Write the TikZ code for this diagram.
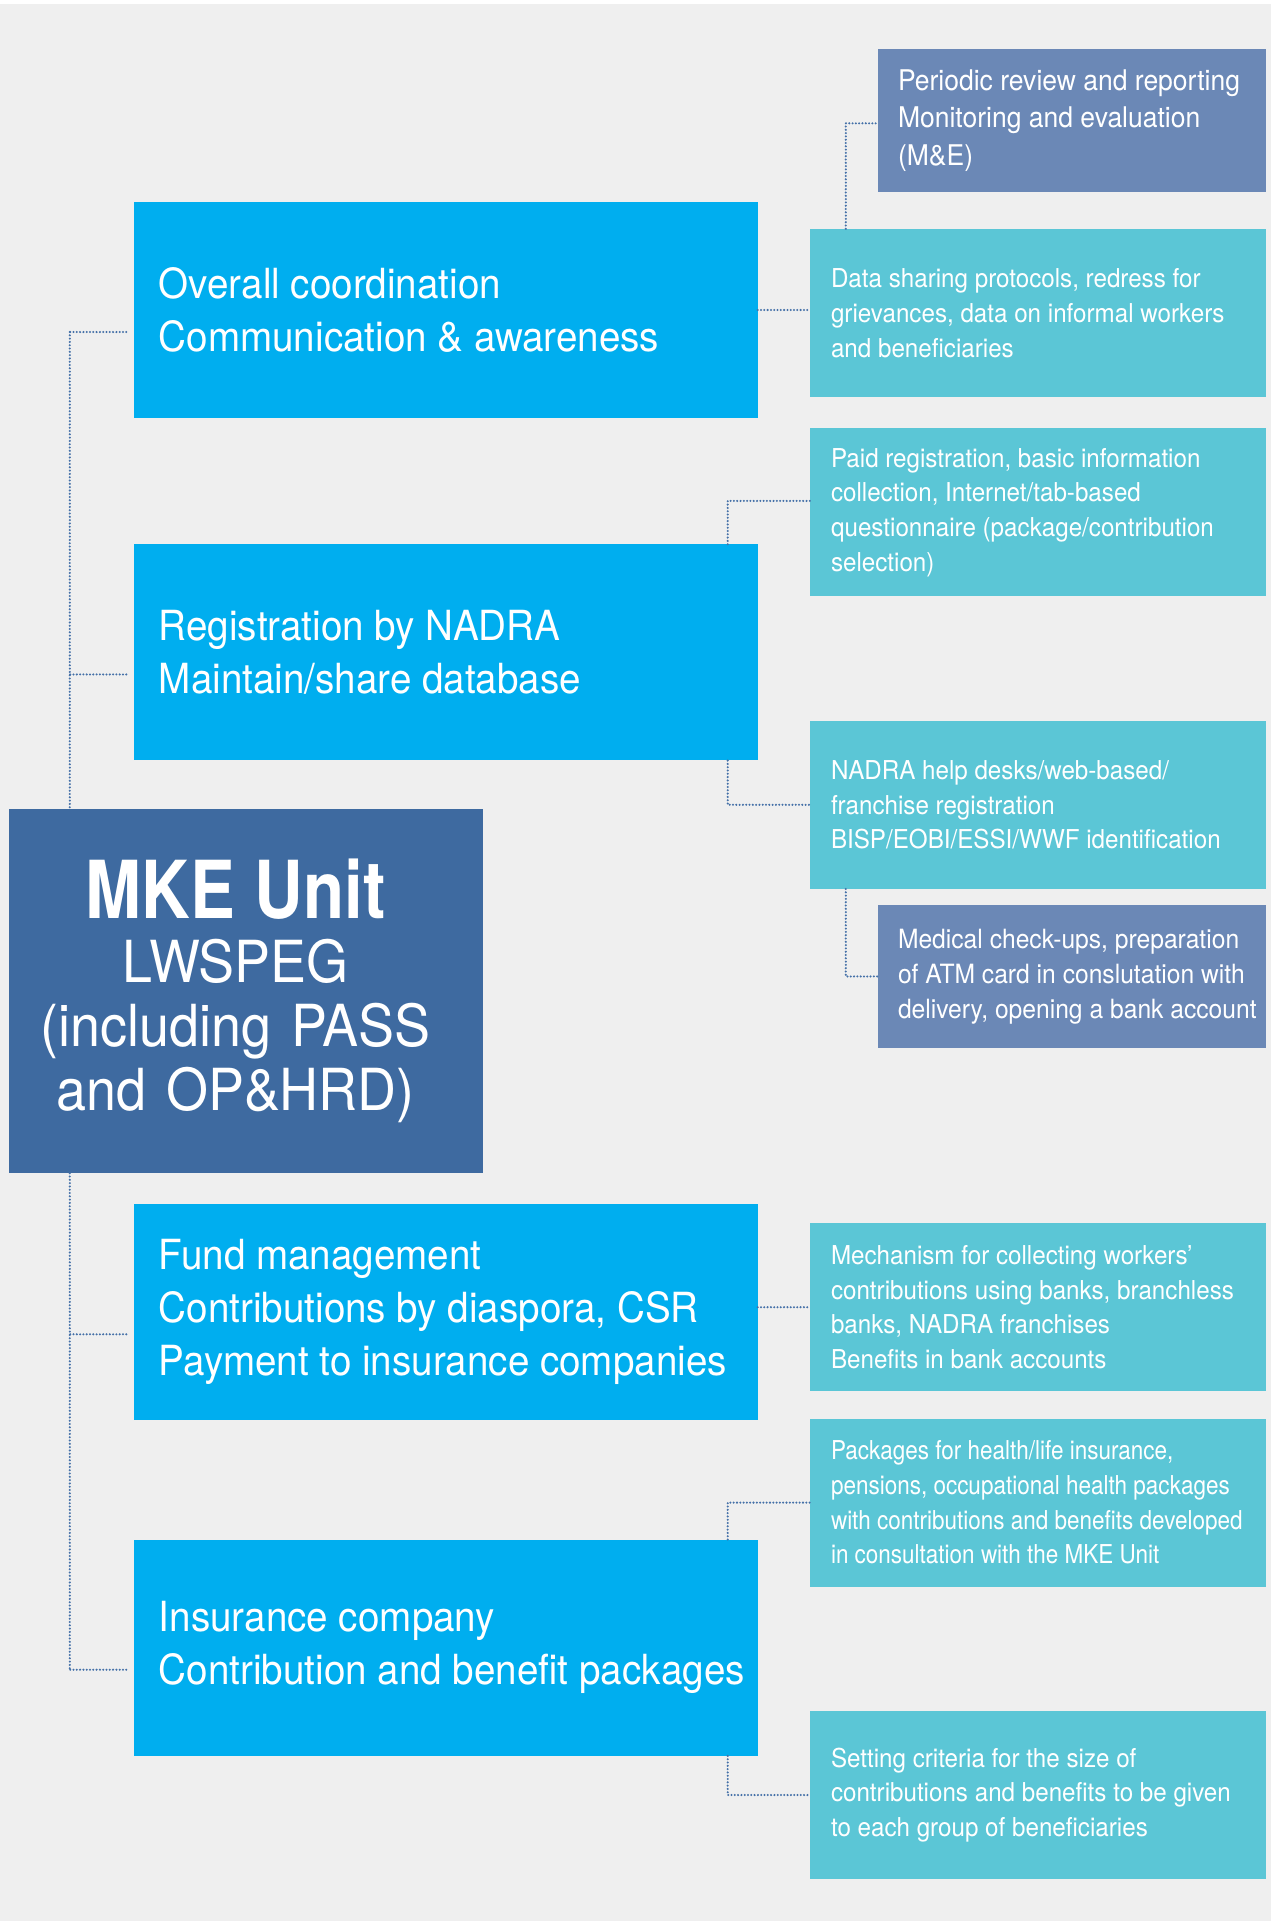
\documentclass[tikz,border=0pt]{standalone}
\usepackage{fontspec}
\setmainfont[FakeStretch=0.93]{TeX Gyre Heros}
\newfontfamily\narrowFont[FakeStretch=0.865]{TeX Gyre Heros}
\newfontfamily\unitFont[FakeStretch=0.84]{TeX Gyre Heros}
\usetikzlibrary{positioning}
\definecolor{taskBlue}{HTML}{00AEEF}
\definecolor{detailTeal}{HTML}{5BC6D6}
\definecolor{reviewBlue}{HTML}{6B88B6}
\definecolor{unitBlue}{HTML}{3E6AA0}
\definecolor{linkBlue}{HTML}{4470A8}
\definecolor{paperGray}{HTML}{EFEFEF}
\tikzset{
    unitBox/.style={
           rectangle,
           fill=unitBlue,
           text=white,
           inner sep=0pt,
           text width=474.4pt,
           minimum height=364pt,
           align=center,
           execute at begin node={\leftskip=0pt plus 1fil\rightskip=20pt plus 1fil\parfillskip=0pt},
           font=\fontsize{58}{64}\selectfont},
    flatText/.style={
           align=left,
           execute at begin node={\spaceskip=0pt\xspaceskip=0pt\rightskip=-40pt plus 1fil\hyphenpenalty=10000}},
    taskBox/.style={
           rectangle,
           fill=taskBlue,
           text=white,
           inner xsep=25.4pt, inner ysep=0pt,
           text width=573.2pt,
           minimum height=216pt,
           flatText,
           font=\fontsize{41.5}{53}\selectfont},
    detailBox/.style={
           rectangle,
           fill=detailTeal,
           text=white,
           inner xsep=21pt, inner ysep=0pt,
           text width=414pt,
           minimum height=168pt,
           flatText,
           font=\fontsize{26}{34.7}\selectfont},
    reviewBox/.style={
           rectangle,
           fill=reviewBlue,
           text=white,
           inner xsep=20.5pt, inner ysep=0pt,
           text width=347.5pt,
           minimum height=143.5pt,
           flatText,
           font=\fontsize{28.5}{37.4}\selectfont},
    dotLink/.style={
           draw=linkBlue,
           line width=2.3pt,
           line cap=round,
           dash pattern=on 0pt off 3.3pt}
}
\begin{document}
\begin{tikzpicture}
	\fill[white] (0,0) rectangle (1271pt,-1921pt);
	\fill[paperGray] (0,-4pt) rectangle (1271pt,-1921pt);
	% left column
	\node[unitBox] (MKEUnit) at (245.8pt,-991pt) {{\unitFont\bfseries\fontsize{80}{80}\selectfont MKE Unit}\\
		LWSPEG\\(including PASS\\and OP\&HRD)};
	\node[taskBox] (Coordination) at (445.5pt,-310pt) {Overall coordination\\Communication \& awareness};
	\node[taskBox, below = 126pt of Coordination] (Registration) {Registration by NADRA\\Maintain/share database};
	\node[taskBox, below = 443.5pt of Registration] (FundMgmt) {Fund management\\Contributions by diaspora, CSR\\Payment to insurance companies};
	\node[taskBox, below = 119pt of FundMgmt] (Insurance) {Insurance company\\Contribution and benefit packages};
	% right column
	\node[detailBox] (DataSharing) at (1038pt,-313pt) {Data sharing protocols, redress for\\grievances, data on informal workers\\and beneficiaries};
	\node[detailBox, below = 31pt of DataSharing] (PaidReg) {Paid registration, basic information\\collection, Internet/tab-based\\questionnaire (package/contribution\\selection)};
	\node[detailBox, below = 124pt of PaidReg] (HelpDesk) {NADRA help desks/web-based/\\franchise registration\\BISP/EOBI/ESSI/WWF identification};
	\node[detailBox, below = 334pt of HelpDesk] (Mechanism) {Mechanism for collecting workers’\\contributions using banks, branchless\\banks, NADRA franchises\\Benefits in bank accounts};
	\node[detailBox, below = 27pt of Mechanism, font=\narrowFont\fontsize{26}{34.7}\selectfont] (Packages) {Packages for health/life insurance,\\pensions, occupational health packages\\with contributions and benefits developed\\in consultation with the MKE Unit};
	\node[detailBox, below = 124pt of Packages] (Criteria) {Setting criteria for the size of\\contributions and benefits to be given\\to each group of beneficiaries};
	\node[reviewBox, above left = 36.5pt and 0pt of DataSharing.north east] (Review) {Periodic review and reporting\\Monitoring and evaluation\\(M\&E)};
	\node[reviewBox, below left = 15.5pt and 0pt of HelpDesk.south east, font=\fontsize{26.5}{35}\selectfont] (Medical) {Medical check-ups, preparation\\of ATM card in conslutation with\\delivery, opening a bank account};
	% spine on the left
	\coordinate (spine) at ([xshift=61.4pt]MKEUnit.west);
	\foreach \task in {Coordination,Registration,FundMgmt,Insurance}{
		\coordinate (\task Tap) at ([xshift=-7pt,yshift=-22pt]\task.west);
		\draw[dotLink] (\task Tap) -- (\task Tap -| spine);
	}
	\draw[dotLink] (CoordinationTap -| spine) -- (spine |- MKEUnit.north);
	\draw[dotLink] (spine |- MKEUnit.south) -- (InsuranceTap -| spine);
	% links to the right
	\draw[dotLink] (Coordination.east) -- (Coordination.east -| DataSharing.west);
	\draw[dotLink] ([xshift=36pt]DataSharing.north west) |- ([yshift=-3pt]Review.west);
	\draw[dotLink] ([xshift=-30pt]Registration.north east) |- ([yshift=11.5pt]PaidReg.west);
	\draw[dotLink] ([xshift=-30pt]Registration.south east) |- (HelpDesk.west);
	\draw[dotLink] ([xshift=36pt]HelpDesk.south west) |- (Medical.west);
	\draw[dotLink] (FundMgmt.east |- Mechanism.west) -- (Mechanism.west);
	\draw[dotLink] ([xshift=-30pt]Insurance.north east) |- (Packages.west);
	\draw[dotLink] ([xshift=-30pt]Insurance.south east) |- (Criteria.west);
\end{tikzpicture}
\end{document}
